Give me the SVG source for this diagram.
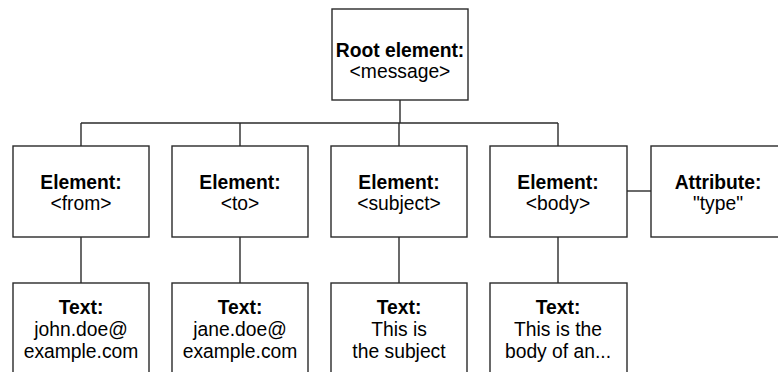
<svg xmlns="http://www.w3.org/2000/svg" width="778" height="372" viewBox="0 0 778 372">
<style>
rect{fill:#fff;stroke:#2a2a2a;stroke-width:1.4}
.c line{stroke:#2a2a2a;stroke-width:1.4}
text{font-family:"Liberation Sans",Arial,sans-serif;font-size:19.3px;fill:#000;text-anchor:middle}
.b{font-weight:bold}
</style>
<rect x="0" y="0" width="778" height="372" style="stroke:none"/>
<g class="c" id="connectors">
<line x1="400" y1="100" x2="400" y2="123"/>
<line x1="81" y1="123" x2="558" y2="123"/>
<line x1="81" y1="123" x2="81" y2="146"/>
<line x1="240" y1="123" x2="240" y2="146"/>
<line x1="399" y1="123" x2="399" y2="146"/>
<line x1="558" y1="123" x2="558" y2="146"/>
<line x1="81" y1="237" x2="81" y2="283"/>
<line x1="240" y1="237" x2="240" y2="283"/>
<line x1="399" y1="237" x2="399" y2="283"/>
<line x1="558" y1="237" x2="558" y2="283"/>
<line x1="627" y1="191" x2="651" y2="191"/>
</g>
<g id="root"><rect x="332" y="9" width="136" height="91"/><text x="400" y="57" class="b">Root element:</text><text x="400" y="78">&lt;message&gt;</text></g>
<g id="el-from"><rect x="13" y="146" width="136" height="91"/><text x="81" y="189" class="b">Element:</text><text x="81" y="210">&lt;from&gt;</text></g>
<g id="el-to"><rect x="172" y="146" width="136" height="91"/><text x="240" y="189" class="b">Element:</text><text x="240" y="210">&lt;to&gt;</text></g>
<g id="el-subject"><rect x="331" y="146" width="136" height="91"/><text x="399" y="189" class="b">Element:</text><text x="399" y="210">&lt;subject&gt;</text></g>
<g id="el-body"><rect x="490" y="146" width="137" height="91"/><text x="558" y="189" class="b">Element:</text><text x="558" y="210">&lt;body&gt;</text></g>
<g id="attr-type"><rect x="651" y="146" width="136" height="91"/><text x="718" y="189" class="b">Attribute:</text><text x="718" y="210">"type"</text></g>
<g id="text-from"><rect x="13" y="283" width="136" height="100"/><text x="81" y="314" class="b">Text:</text><text x="81" y="336">john.doe@</text><text x="81" y="358">example.com</text></g>
<g id="text-to"><rect x="172" y="283" width="136" height="100"/><text x="240" y="314" class="b">Text:</text><text x="240" y="336">jane.doe@</text><text x="240" y="358">example.com</text></g>
<g id="text-subject"><rect x="331" y="283" width="136" height="100"/><text x="399" y="314" class="b">Text:</text><text x="399" y="336">This is</text><text x="399" y="358">the subject</text></g>
<g id="text-body"><rect x="490" y="283" width="137" height="100"/><text x="558" y="314" class="b">Text:</text><text x="558" y="336">This is the</text><text x="558" y="358">body of an...</text></g>
</svg>
